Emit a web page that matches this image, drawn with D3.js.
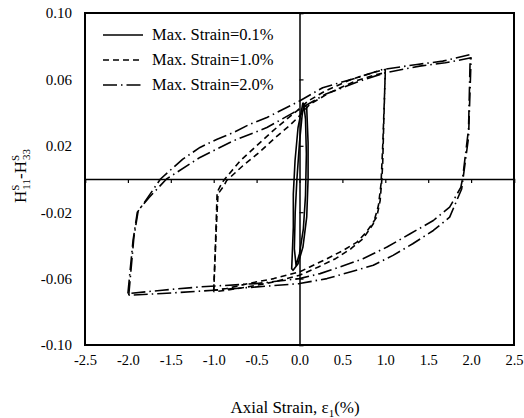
<!DOCTYPE html>
<html>
<head>
<meta charset="utf-8">
<script src="https://cdn.jsdelivr.net/npm/d3@7"></script>
<style>
  body { margin: 0; background: #fff; }
  text { font-family: "Liberation Serif", "Times New Roman", serif; fill: #000; }
</style>
</head>
<body>
<script>
const width = 524;
const height = 418;
const margin = { top: 13, right: 10, bottom: 73, left: 85 };

// tick values
const strainTicks = [-2.5, -2.0, -1.5, -1.0, -0.5, 0.0, 0.5, 1.0, 1.5, 2.0, 2.5];
const hTicks = [-0.10, -0.06, -0.02, 0.02, 0.06, 0.10];
const seriesNames = ['Max. Strain=0.1%', 'Max. Strain=1.0%', 'Max. Strain=2.0%'];

// loops, [strain %, H11-H33]
const loop01a = [[0.04, 0.046], [0.084, 0.043], [0.10, 0.022], [0.10, 0.0], [0.084, -0.023], [0.04, -0.041],
  [-0.017, -0.051], [-0.075, -0.055], [-0.091, -0.054], [-0.08, -0.04], [-0.072, -0.029], [-0.072, -0.009],
  [-0.052, 0.011], [-0.017, 0.031], [0.026, 0.042], [0.04, 0.046]];
const loop01b = [[0.05, 0.045], [0.07, 0.036], [0.08, 0.015], [0.07, -0.01], [0.045, -0.03], [0.0, -0.045],
  [-0.04, -0.052], [-0.06, -0.042], [-0.05, -0.02], [-0.03, 0.0], [0.0, 0.022], [0.03, 0.038], [0.05, 0.045]];

const loop10a = [[-1.0, -0.067], [-0.98, -0.04], [-0.96, -0.008], [-0.90, -0.002], [-0.87, 0.0], [-0.69, 0.011],
  [-0.5, 0.020], [-0.31, 0.029], [-0.15, 0.036], [-0.03, 0.041], [0.1, 0.047], [0.3, 0.053], [0.6, 0.060],
  [0.85, 0.064], [1.0, 0.066], [0.98, 0.03], [0.97, 0.01], [0.96, 0.0], [0.94, -0.013], [0.90, -0.023],
  [0.78, -0.032], [0.67, -0.038], [0.51, -0.043], [0.32, -0.048], [0.12, -0.053], [0.0, -0.056],
  [-0.3, -0.060], [-0.6, -0.063], [-0.85, -0.066], [-1.0, -0.067]];
const loop10b = [[-1.0, -0.068], [-0.97, -0.03], [-0.95, -0.009], [-0.88, -0.004], [-0.85, -0.001], [-0.66, 0.008],
  [-0.47, 0.016], [-0.28, 0.025], [-0.12, 0.032], [0.0, 0.038], [0.12, 0.045], [0.35, 0.052], [0.65, 0.059],
  [0.9, 0.063], [1.0, 0.064], [0.97, 0.02], [0.95, -0.003], [0.92, -0.016], [0.86, -0.027], [0.74, -0.036],
  [0.6, -0.042], [0.42, -0.048], [0.22, -0.053], [0.0, -0.058], [-0.3, -0.062], [-0.6, -0.065],
  [-0.85, -0.067], [-1.0, -0.068]];

const loop20a = [[-2.0, -0.069], [-1.94, -0.037], [-1.89, -0.020], [-1.82, -0.015], [-1.66, -0.003], [-1.62, 0.0],
  [-1.36, 0.012], [-1.16, 0.019], [-0.96, 0.024], [-0.77, 0.028], [-0.58, 0.033], [-0.38, 0.037],
  [-0.19, 0.042], [0.0, 0.047], [0.27, 0.055], [0.67, 0.061], [0.97, 0.066], [1.37, 0.069], [1.67, 0.071],
  [1.99, 0.075], [1.97, 0.03], [1.90, 0.0], [1.88, -0.005], [1.75, -0.017], [1.56, -0.025], [1.29, -0.033],
  [1.02, -0.041], [0.74, -0.048], [0.47, -0.053], [0.24, -0.057], [0.0, -0.060], [-0.5, -0.063],
  [-1.16, -0.065], [-1.6, -0.067], [-2.0, -0.069]];
const loop20b = [[-1.99, -0.070], [-1.93, -0.035], [-1.88, -0.019], [-1.75, -0.011], [-1.55, 0.0], [-1.16, 0.013],
  [-0.77, 0.023], [-0.38, 0.031], [-0.07, 0.040], [0.3, 0.051], [0.7, 0.059], [1.0, 0.064], [1.4, 0.068],
  [1.7, 0.070], [2.0, 0.073], [1.97, 0.025], [1.89, -0.006], [1.75, -0.023], [1.56, -0.031], [1.32, -0.039],
  [1.09, -0.046], [0.86, -0.052], [0.59, -0.056], [0.32, -0.060], [0.0, -0.063], [-1.0, -0.067],
  [-1.6, -0.069], [-1.99, -0.070]];

const loops = [
  { s: 0, pts: loop01a }, { s: 0, pts: loop01b },
  { s: 1, pts: loop10a }, { s: 1, pts: loop10b },
  { s: 2, pts: loop20a }, { s: 2, pts: loop20b }
];
const dashes = [null, '6,4', '14,4,1.5,4'];

const svg = d3.select('body').append('svg')
  .attr('width', width)
  .attr('height', height);

const x = d3.scaleLinear().domain([-2.5, 2.5]).range([margin.left, width - margin.right]);
const y = d3.scaleLinear().domain([-0.10, 0.10]).range([height - margin.bottom, margin.top]);

// tick labels on the frame (plain hyphen minus like the original)
svg.append('g')
  .attr('transform', `translate(0,${y(-0.10)})`)
  .call(d3.axisBottom(x).tickValues(strainTicks).tickSize(0).tickPadding(10).tickFormat(d => d.toFixed(1)))
  .call(g => g.select('.domain').remove())
  .selectAll('text').style('font-size', '14.5px').style('font-family', '"Liberation Serif", serif');

svg.append('g')
  .attr('transform', `translate(${x(-2.5)},0)`)
  .call(d3.axisLeft(y).tickValues(hTicks).tickSize(0).tickPadding(13).tickFormat(d => d.toFixed(2)))
  .call(g => g.select('.domain').remove())
  .selectAll('text').style('font-size', '15px').style('font-family', '"Liberation Serif", serif');

// zero lines with small ticks
svg.append('g')
  .attr('transform', `translate(0,${y(0)})`)
  .call(d3.axisBottom(x).tickValues(strainTicks).tickSize(4).tickFormat(''))
  .call(g => g.select('.domain').attr('stroke-width', 1.5))
  .call(g => g.selectAll('line').attr('stroke-width', 1.2));

svg.append('g')
  .attr('transform', `translate(${x(0)},0)`)
  .call(d3.axisRight(y).tickValues(hTicks).tickSize(4).tickFormat(''))
  .call(g => g.select('.domain').attr('stroke-width', 1.5))
  .call(g => g.selectAll('line').attr('stroke-width', 1.2));

// loops
const line = d3.line().x(d => x(d[0])).y(d => y(d[1]));

svg.append('g').selectAll('path')
  .data(loops)
  .enter()
  .append('path')
  .attr('d', d => line(d.pts))
  .attr('fill', 'none')
  .attr('stroke', '#000')
  .attr('stroke-width', 1.6)
  .attr('stroke-linejoin', 'round')
  .attr('stroke-dasharray', d => dashes[d.s]);

// frame
svg.append('rect')
  .attr('x', x(-2.5))
  .attr('y', y(0.10))
  .attr('width', x(2.5) - x(-2.5))
  .attr('height', y(-0.10) - y(0.10))
  .attr('fill', 'none')
  .attr('stroke', '#000')
  .attr('stroke-width', 2);

// legend
const legend = svg.append('g').attr('transform', 'translate(103,35)');
seriesNames.forEach((name, i) => {
  legend.append('line')
    .attr('x1', 0).attr('x2', 40)
    .attr('y1', i * 25).attr('y2', i * 25)
    .attr('stroke', '#000')
    .attr('stroke-width', 1.6)
    .attr('stroke-dasharray', dashes[i]);
  legend.append('text')
    .attr('x', 49)
    .attr('y', i * 25 + 5)
    .style('font-size', '16.5px')
    .text(name);
});

// axis titles
const xt = svg.append('text')
  .attr('x', 295)
  .attr('y', 413)
  .attr('text-anchor', 'middle')
  .style('font-size', '17px');
xt.append('tspan').text('Axial Strain, ε');
xt.append('tspan').attr('dy', 4).style('font-size', '11px').text('1');
xt.append('tspan').attr('dy', -4).text('(%)');

const yt = svg.append('text')
  .attr('transform', 'translate(26,176) rotate(-90)')
  .attr('text-anchor', 'middle')
  .style('font-size', '17px');
yt.append('tspan').text('H');
yt.append('tspan').attr('dy', -7).style('font-size', '11px').text('S');
yt.append('tspan').attr('dx', -5).attr('dy', 11).style('font-size', '11px').text('11');
yt.append('tspan').attr('dy', -4).text('-H');
yt.append('tspan').attr('dy', -7).style('font-size', '11px').text('S');
yt.append('tspan').attr('dx', -5).attr('dy', 11).style('font-size', '11px').text('33');
</script>
</body>
</html>
